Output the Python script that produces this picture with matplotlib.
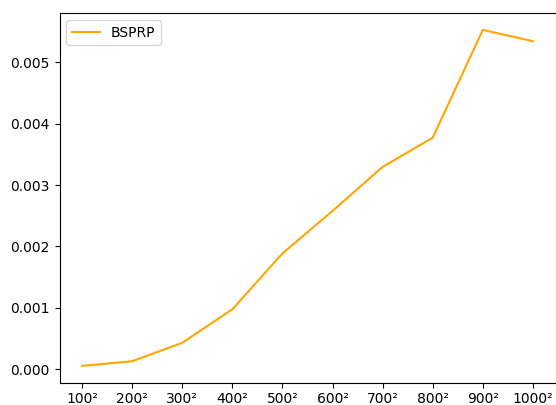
import matplotlib
matplotlib.use("Agg")
import matplotlib.pyplot as plt

sizes = [100, 200, 300, 400, 500, 600, 700, 800, 900, 1000]
tick_labels = [f"{n}²" for n in sizes]
bsprp_times = [0.000054, 0.00013, 0.00043, 0.000976, 0.001887,
               0.00258, 0.003297, 0.003775, 0.00553, 0.005346]

fig = plt.figure(figsize=(5.56, 4.05), dpi=100)
ax = fig.add_axes([59.5 / 556, (405 - 382.7) / 405, 496 / 556, 369.6 / 405])
ax.plot(sizes, bsprp_times, color="orange", label="BSPRP")
ax.set_xticks(sizes)
ax.set_xticklabels(tick_labels)
ax.legend(loc="upper left")
fig.savefig("out.png", dpi=100)
